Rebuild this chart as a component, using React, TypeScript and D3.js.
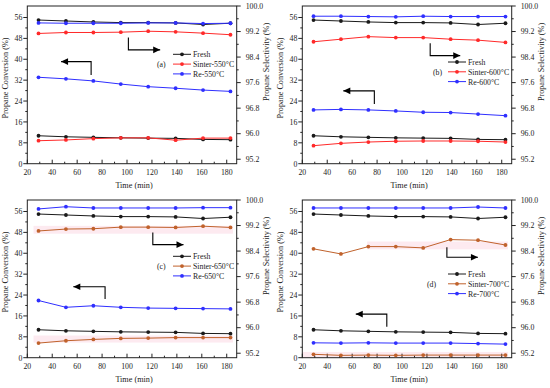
import React from "react";
import * as d3 from "d3";

const times = [29, 51, 73, 95, 117, 139, 161, 183];
const xTicks = [20, 40, 60, 80, 100, 120, 140, 160, 180];
const leftTicks = [0, 8, 16, 24, 32, 40, 48, 56];
const rightTicks = [95.2, 96.0, 96.8, 97.6, 98.4, 99.2, 100.0];

const freshConv = [10.7, 10.3, 10.1, 9.9, 9.8, 9.7, 9.3, 9.2];
const freshSel = [99.56, 99.53, 99.5, 99.48, 99.48, 99.47, 99.42, 99.46];

const sinter550Conv = [8.8, 9.1, 9.6, 9.9, 9.9, 9.0, 9.8, 9.8];
const sinter550Sel = [99.14, 99.17, 99.17, 99.18, 99.21, 99.19, 99.15, 99.1];
const re550Conv = [33.1, 32.5, 31.7, 30.5, 29.5, 28.9, 28.2, 27.7];
const re550Sel = [99.47, 99.46, 99.46, 99.46, 99.47, 99.47, 99.45, 99.46];

const sinter600Conv = [6.9, 7.8, 8.3, 8.6, 8.7, 8.7, 8.6, 8.3];
const sinter600Sel = [98.88, 98.96, 99.04, 99.01, 99.01, 98.96, 98.93, 98.86];
const re600Conv = [20.6, 20.8, 20.6, 20.2, 19.7, 19.6, 19.0, 18.4];
const re600Sel = [99.68, 99.68, 99.67, 99.66, 99.68, 99.67, 99.67, 99.67];

const sinter650Conv = [5.6, 6.5, 7.0, 7.4, 7.5, 7.7, 7.7, 7.7];
const sinter650Sel = [99.03, 99.09, 99.1, 99.15, 99.15, 99.14, 99.18, 99.14];
const re650Conv = [21.9, 19.3, 19.9, 19.3, 19.0, 18.9, 18.8, 18.7];
const re650Sel = [99.72, 99.79, 99.75, 99.75, 99.75, 99.75, 99.76, 99.76];

const sinter700Conv = [1.3, 0.9, 1.0, 0.9, 1.0, 1.0, 1.0, 1.0];
const sinter700Sel = [98.47, 98.31, 98.54, 98.54, 98.5, 98.76, 98.74, 98.59];
const re700Conv = [5.7, 5.6, 5.7, 5.6, 5.6, 5.6, 5.4, 5.2];
const re700Sel = [99.75, 99.75, 99.75, 99.75, 99.75, 99.75, 99.78, 99.75];

const FONT = "'Liberation Serif', 'Times New Roman', serif";
const FS = 7.8;
const BLACK = "#1a1a1a";
const RED = "#ff2a2a";
const BLUE = "#2f2fff";
const BROWN = "#c0622c";

type PanelSpec = {
  tag: string;
  temp: string;
  sinterColor: string;
  sinterConv: number[];
  sinterSel: number[];
  reConv: number[];
  reSel: number[];
  rightArrow: [number, number][];
  leftArrow: [number, number][];
  legendTop: number;
  tagX: number;
  bands?: { t0: number; t1: number; v0: number; v1: number }[];
};

const panels: PanelSpec[] = [
  {
    tag: "(a)", temp: "550", sinterColor: RED,
    sinterConv: sinter550Conv, sinterSel: sinter550Sel, reConv: re550Conv, reSel: re550Sel,
    rightArrow: [[101.1, 48.3], [101.1, 43.6], [126.6, 43.6]],
    leftArrow: [[71.2, 34.0], [71.2, 39.1], [47.1, 39.1]],
    legendTop: 54.3, tagX: 157,
  },
  {
    tag: "(b)", temp: "600", sinterColor: RED,
    sinterConv: sinter600Conv, sinterSel: sinter600Sel, reConv: re600Conv, reSel: re600Sel,
    rightArrow: [[122.6, 46.1], [122.6, 41.4], [146.7, 41.4]],
    leftArrow: [[77.8, 22.9], [77.8, 27.9], [52.9, 27.9]],
    legendTop: 62, tagX: 158,
  },
  {
    tag: "(c)", temp: "650", sinterColor: BROWN,
    sinterConv: sinter650Conv, sinterSel: sinter650Sel, reConv: re650Conv, reSel: re650Sel,
    rightArrow: [[120.7, 48.0], [120.7, 43.3], [145.3, 43.3]],
    leftArrow: [[82.4, 22.5], [82.4, 27.2], [56.9, 27.2]],
    legendTop: 62.3, tagX: 157,
    bands: [
      { t0: 25, t1: 185, v0: 47.5, v1: 50.5 },
      { t0: 25, t1: 185, v0: 5.8, v1: 8.5 },
    ],
  },
  {
    tag: "(d)", temp: "700", sinterColor: BROWN,
    sinterConv: sinter700Conv, sinterSel: sinter700Sel, reConv: re700Conv, reSel: re700Sel,
    rightArrow: [[136.0, 42.3], [136.0, 38.5], [160.9, 38.5]],
    leftArrow: [[87.8, 11.9], [87.8, 16.7], [62.9, 16.7]],
    legendTop: 80, tagX: 152,
    bands: [
      { t0: 72, t1: 185, v0: 41.5, v1: 44.5 },
      { t0: 20, t1: 185, v0: 0, v1: 2.2 },
    ],
  },
];

const PLOT_L = 27.3;
const PLOT_R = 236.7;
const PLOT_T = 6;
const PLOT_B = 163.7;

function Panel({ spec, dx, dy }: { spec: PanelSpec; dx: number; dy: number }) {
  const x = d3.scaleLinear().domain([20, 188]).range([PLOT_L, PLOT_R]);
  const yL = d3.scaleLinear().domain([0, 60.4]).range([PLOT_B, PLOT_T]);
  const yR = d3.scaleLinear().domain([95.06, 100]).range([PLOT_B, PLOT_T]);

  const lineL = d3.line<number>().x((_, i) => x(times[i])).y((v) => yL(v));
  const lineR = d3.line<number>().x((_, i) => x(times[i])).y((v) => yR(v));

  const series = [
    { vals: freshSel, color: BLACK, right: true },
    { vals: spec.sinterSel, color: spec.sinterColor, right: true },
    { vals: spec.reSel, color: BLUE, right: true },
    { vals: freshConv, color: BLACK, right: false },
    { vals: spec.sinterConv, color: spec.sinterColor, right: false },
    { vals: spec.reConv, color: BLUE, right: false },
  ];

  const legend = [
    { label: "Fresh", color: BLACK },
    { label: `Sinter-${spec.temp}°C`, color: spec.sinterColor },
    { label: `Re-${spec.temp}°C`, color: BLUE },
  ];

  const arrowPath = (pts: [number, number][]) =>
    d3.line<[number, number]>().x((p) => x(p[0])).y((p) => yL(p[1]))(pts) || "";

  const arrowHead = (pts: [number, number][], dir: number) => {
    const tip = pts[pts.length - 1];
    const tx = x(tip[0]);
    const ty = yL(tip[1]);
    return `M${tx},${ty} L${tx - dir * 7},${ty - 3.3} L${tx - dir * 7},${ty + 3.3} Z`;
  };

  const xMinor = d3.range(30, 188, 20);
  const lMinor = d3.range(4, 60, 8);
  const rMinor = d3.range(95.6, 100, 0.8);

  return (
    <g transform={`translate(${dx},${dy})`}>
      {(spec.bands || []).map((b, i) => (
        <rect key={i} x={x(b.t0)} y={yL(b.v1)} width={x(b.t1) - x(b.t0)} height={yL(b.v0) - yL(b.v1)} fill="#fdeaf0" />
      ))}
      <rect x={PLOT_L} y={PLOT_T} width={PLOT_R - PLOT_L} height={PLOT_B - PLOT_T} fill="none" stroke="#222" strokeWidth={1} />
      {xTicks.map((t) => (
        <g key={t}>
          <line x1={x(t)} x2={x(t)} y1={PLOT_B} y2={PLOT_B - 4} stroke="#222" />
          <text x={x(t)} y={PLOT_B + 11.5} textAnchor="middle" fontSize={FS} fontFamily={FONT} fill="#222">{t}</text>
        </g>
      ))}
      {xMinor.map((t) => (
        <line key={t} x1={x(t)} x2={x(t)} y1={PLOT_B} y2={PLOT_B - 2} stroke="#222" />
      ))}
      {leftTicks.map((t) => (
        <g key={t}>
          <line x1={PLOT_L} x2={PLOT_L - 4} y1={yL(t)} y2={yL(t)} stroke="#222" />
          <text x={PLOT_L - 5} y={yL(t) + 2.8} textAnchor="end" fontSize={FS} fontFamily={FONT} fill="#222">{t}</text>
        </g>
      ))}
      {lMinor.map((t) => (
        <line key={t} x1={PLOT_L} x2={PLOT_L - 2} y1={yL(t)} y2={yL(t)} stroke="#222" />
      ))}
      {rightTicks.map((t) => (
        <g key={t}>
          <line x1={PLOT_R} x2={PLOT_R + 4} y1={yR(t)} y2={yR(t)} stroke="#222" />
          <text x={PLOT_R + 9} y={yR(t) + 2.8} textAnchor="start" fontSize={FS} fontFamily={FONT} fill="#222">{t.toFixed(1)}</text>
        </g>
      ))}
      {rMinor.map((t) => (
        <line key={t} x1={PLOT_R} x2={PLOT_R + 2} y1={yR(t)} y2={yR(t)} stroke="#222" />
      ))}
      <text transform={`translate(8,78) rotate(-90)`} textAnchor="middle" fontSize={8.2} fontFamily={FONT} fill="#222">Propane Conversion (%)</text>
      <text transform={`translate(269,62) rotate(-90)`} textAnchor="middle" fontSize={8.2} fontFamily={FONT} fill="#222">Propane Selectivity (%)</text>
      <text x={(PLOT_L + PLOT_R) / 2 + 2} y={PLOT_B + 24} textAnchor="middle" fontSize={8.2} fontFamily={FONT} fill="#222">Time (min)</text>
      {series.map((s, i) => (
        <g key={i}>
          <path d={(s.right ? lineR : lineL)(s.vals) || ""} fill="none" stroke={s.color} strokeWidth={1} />
          {s.vals.map((v, j) => (
            <circle key={j} cx={x(times[j])} cy={s.right ? yR(v) : yL(v)} r={1.9} fill={s.color} />
          ))}
        </g>
      ))}
      <path d={arrowPath(spec.rightArrow)} fill="none" stroke="#000" strokeWidth={1.1} />
      <path d={arrowHead(spec.rightArrow, 1)} fill="#000" />
      <path d={arrowPath(spec.leftArrow)} fill="none" stroke="#000" strokeWidth={1.1} />
      <path d={arrowHead(spec.leftArrow, -1)} fill="#000" />
      {legend.map((l, i) => {
        const ly = spec.legendTop + i * 9.8;
        return (
          <g key={i}>
            <line x1={173} x2={191} y1={ly} y2={ly} stroke={l.color} strokeWidth={1} />
            <circle cx={182} cy={ly} r={1.9} fill={l.color} />
            <text x={193} y={ly + 2.9} fontSize={FS} fontFamily={FONT} fill="#222">{l.label}</text>
          </g>
        );
      })}
      <text x={spec.tagX} y={spec.legendTop + 9.8 + 2.9} fontSize={FS} fontFamily={FONT} fill="#222">{spec.tag}</text>
    </g>
  );
}

export default function App() {
  return (
    <svg width={550} height={388} style={{ position: "absolute", left: 0, top: 0, background: "#fff" }}>
      <rect width={550} height={388} fill="#fff" />
      <Panel spec={panels[0]} dx={0} dy={0} />
      <Panel spec={panels[1]} dx={275} dy={0} />
      <Panel spec={panels[2]} dx={0} dy={194} />
      <Panel spec={panels[3]} dx={275} dy={194} />
    </svg>
  );
}
